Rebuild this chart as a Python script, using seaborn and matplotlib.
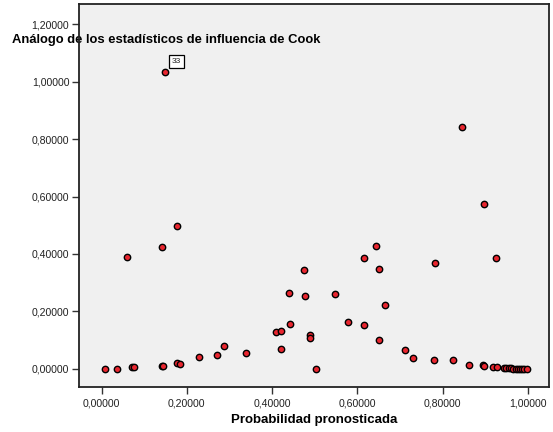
import matplotlib
matplotlib.use("Agg")
import matplotlib.pyplot as plt
from matplotlib.ticker import FuncFormatter
import seaborn as sns
import pandas as pd

prob = [0.009, 0.036, 0.059, 0.072, 0.077, 0.141, 0.141, 0.143, 0.149, 0.178, 0.177, 0.184,
        0.228, 0.271, 0.286, 0.339, 0.409, 0.421, 0.421, 0.440, 0.443, 0.475, 0.477,
        0.490, 0.490, 0.503, 0.548, 0.578, 0.616, 0.616, 0.644, 0.652, 0.652, 0.666,
        0.713, 0.731, 0.781, 0.783, 0.825, 0.846, 0.862, 0.894, 0.897, 0.898, 0.919,
        0.926, 0.927, 0.944, 0.949, 0.955, 0.961, 0.966, 0.972, 0.977, 0.982, 0.987,
        0.992, 0.998]
cook = [0.000, 0.001, 0.388, 0.007, 0.005, 0.424, 0.011, 0.010, 1.035, 0.497, 0.020, 0.017,
        0.043, 0.050, 0.081, 0.057, 0.130, 0.132, 0.070, 0.263, 0.155, 0.344, 0.255,
        0.117, 0.107, 0.001, 0.261, 0.163, 0.386, 0.154, 0.427, 0.347, 0.102, 0.223,
        0.067, 0.039, 0.032, 0.369, 0.030, 0.841, 0.015, 0.012, 0.574, 0.010, 0.007,
        0.385, 0.007, 0.002, 0.002, 0.002, 0.002, 0.001, 0.001, 0.001, 0.001, 0.001,
        0.001, 0.001]
ticks = [0.0, 0.2, 0.4, 0.6, 0.8, 1.0]
yticks = [0.0, 0.2, 0.4, 0.6, 0.8, 1.0, 1.2]
label_case = "33"
label_x, label_y = 0.149, 1.035

df = pd.DataFrame({"prob": prob, "cook": cook})

sns.set_style("white")
plt.rcParams['font.family'] = ['Liberation Sans', 'DejaVu Sans']

fig = plt.figure(figsize=(5.53, 4.32), dpi=100)
ax = fig.add_axes([0.1429, 0.1042, 0.8493, 0.8865])
ax.set_facecolor("#f0f0f0")

sns.scatterplot(data=df, x="prob", y="cook", ax=ax, s=21, color="#e8262f",
                edgecolor="black", linewidth=1.0, zorder=3)

ax.set_xlim(-0.053, 1.049)
ax.set_ylim(-0.063, 1.27)
ax.set_xticks(ticks)
ax.set_yticks(yticks)
fmt = FuncFormatter(lambda v, p: f"{v:.5f}".replace(".", ","))
ax.xaxis.set_major_formatter(fmt)
ax.yaxis.set_major_formatter(fmt)
ax.tick_params(axis="both", direction="out", length=5, width=1, color="#333333",
               labelsize=7.6, labelcolor="#222222", bottom=True, left=True, pad=2)
ax.tick_params(axis="x", pad=3)
for sp in ax.spines.values():
    sp.set_color("#222222")
    sp.set_linewidth(1.3)

ax.set_xlabel("Probabilidad pronosticada", fontsize=9.5, fontweight="bold", labelpad=4,
              color="black")
ax.set_ylabel("Análogo de los estadísticos de influencia de Cook", fontsize=9.4,
              fontweight="bold", rotation=0, ha="left", va="center", color="black")
ax.yaxis.set_label_coords(-0.1426, 0.906)

ax.annotate(label_case, xy=(label_x, label_y), xytext=(8, 7), textcoords="offset points",
            fontsize=6, ha="center", va="center", color="#222222",
            bbox=dict(boxstyle="square,pad=0.35", fc="white", ec="black", lw=0.9))

fig.savefig("out.png", dpi=100)
